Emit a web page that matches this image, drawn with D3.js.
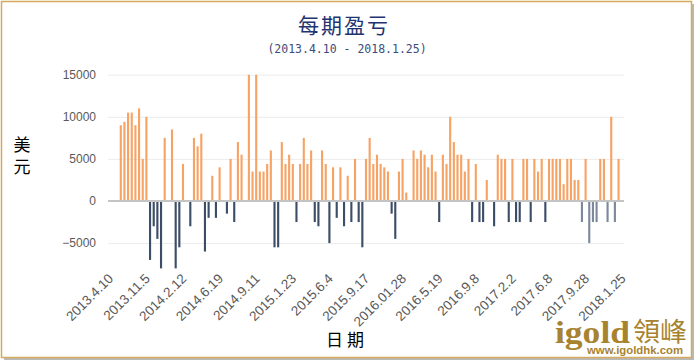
<!DOCTYPE html>
<html>
<head>
<meta charset="utf-8">
<script src="https://cdn.jsdelivr.net/npm/d3@7"></script>
<style>
  body { margin: 0; background: #fff; }
  svg { display: block; }
</style>
</head>
<body>
<div class="chart"></div>
<script>
// 每期盈亏 (2013.4.10 - 2018.1.25)
// 141 periods, only every 10th one gets a label
const tickLabels = ['2013.4.10', '2013.11.5', '2014.2.12', '2014.6.19', '2014.9.11',
  '2015.1.23', '2015.6.4', '2015.9.17', '2016.01.28', '2016.5.19', '2016.9.8',
  '2017.2.2', '2017.6.8', '2017.9.28', '2018.1.25'];

// profit / loss per period in US$ (null = no trade)
const pnl = [
  null, null, null,
  9000, 9400, 10500, 10500, 9000, 11000, 5000, 10000, -7000, -3000,
  -4500, -8000, 7500, null, 8500, -8000, -5500, 4400, null, -3000,
  7500, 6500, 8000, -6000, -2000, 3000, -2000, 4000, null, -1500,
  5000, -2500, 7000, 5500, null, 15000, 3500, 15000, 3500, 3500,
  4400, 6000, -5500, -5500, 7000, 4400, 5500, 4400, -2500, 4400,
  7500, 4400, 6000, -2500, -3000, 6000, 4400, -5000, 4000, -2000,
  4000, -3000, 3000, -2500, 5000, -2500, -5500, 5000, 7500, 4400,
  5500, 4400, 4000, 3500, -1500, -4500, 3500, 5000, 1000, null,
  6000, 5000, 6000, 5500, 4000, 5500, 3500, -2500, 5500, 4400,
  10000, 7000, 5500, 5500, 3500, 5000, -2500, 4400, -2500, -2500,
  2500, null, -3000, 5500, 5000, 5000, -2500, 5000, -2500, -2500,
  5000, 5000, -2500, 5000, 3500, 5000, -2500, 5000, 5000, 5000,
  5000, 2000, 5000, 5000, 2500, 2500, -2500, 5000, -5000, -2500,
  -2500, 5000, 5000, -2500, 10000, -2500, 5000,
  null
];

const yTicks = [-5000, 0, 5000, 10000, 15000];

const width = 695;
const height = 362;
const plot = { left: 108, right: 624, top: 74.7, zero: 201 };

const svg = d3.select('.chart').append('svg')
  .attr('width', width).attr('height', height);

// frame with a soft shadow
svg.append('rect').attr('x', 4).attr('y', 4).attr('width', 690).attr('height', 356)
  .attr('fill', '#b8b8b8');
svg.append('rect').attr('x', 1.5).attr('y', 1.5).attr('width', 690).attr('height', 356)
  .attr('fill', '#fff').attr('stroke', '#d3ab5c').attr('stroke-width', 1.5);

const data = pnl.map((v, i) => ({ i: i, v: v }));

const x = d3.scaleBand()
  .domain(data.map(d => d.i))
  .range([plot.left, plot.right])
  .paddingInner(0.42)
  .paddingOuter(0.2);

// 0 sits at y=201, 15000 at 74.7
const pxPer = (plot.zero - plot.top) / 15000;
const y = d3.scaleLinear()
  .domain([-8000, 15000])
  .range([plot.zero + 8000 * pxPer, plot.top]);

// grid lines + y labels
const yAxis = d3.axisLeft(y)
  .tickValues(yTicks)
  .tickSize(-(plot.right - plot.left))
  .tickPadding(12)
  .tickFormat(d3.format('d'));
const yg = svg.append('g')
  .attr('transform', `translate(${plot.left},0)`)
  .call(yAxis);
yg.select('.domain').remove();
yg.selectAll('line').attr('stroke', '#ececec').attr('stroke-width', 1);
yg.selectAll('text')
  .attr('fill', '#595959')
  .style('font-family', '"Liberation Sans", Arial, sans-serif')
  .style('font-size', '12px');

// bars (the last few losses are drawn lighter in the original)
svg.append('g').selectAll('rect')
  .data(data.filter(d => d.v !== null))
  .join('rect')
  .attr('x', d => x(d.i))
  .attr('width', x.bandwidth())
  .attr('y', d => y(Math.max(0, d.v)))
  .attr('height', d => Math.abs(y(d.v) - y(0)))
  .attr('fill', d => d.v >= 0 ? '#f6a366' : (d.i >= 129 ? '#7c889b' : '#3c4d68'));

// zero line
svg.append('line')
  .attr('x1', plot.left).attr('x2', plot.right)
  .attr('y1', y(0)).attr('y2', y(0))
  .attr('stroke', '#c4c4c4').attr('stroke-width', 2);

// x labels (every 10th period), rotated
const xAxis = d3.axisBottom(x)
  .tickValues(d3.range(0, pnl.length, 10))
  .tickFormat(i => tickLabels[i / 10])
  .tickSize(0);
const xg = svg.append('g')
  .attr('transform', 'translate(0,276)')
  .call(xAxis);
xg.select('.domain').remove();
xg.selectAll('text')
  .attr('fill', '#595959')
  .attr('text-anchor', 'end')
  .attr('y', 0)
  .attr('dy', '0.35em')
  .attr('transform', 'translate(1,0) rotate(-45)')
  .style('font-family', '"Liberation Sans", Arial, sans-serif')
  .style('font-size', '13.5px');

// titles
svg.append('text')
  .attr('x', 344).attr('y', 33)
  .attr('text-anchor', 'middle')
  .attr('fill', '#1f3470')
  .style('font-family', '"Noto Sans CJK SC", sans-serif')
  .style('font-size', '21px')
  .style('letter-spacing', '2px')
  .text('每期盈亏');
svg.append('text')
  .attr('x', 347).attr('y', 53)
  .attr('text-anchor', 'middle')
  .attr('fill', '#3e4c7c')
  .style('font-family', '"DejaVu Sans Mono", monospace')
  .style('font-size', '11.5px')
  .text('(2013.4.10 - 2018.1.25)');

// axis titles
svg.append('text')
  .attr('x', 22).attr('y', 136)
  .attr('fill', '#000')
  .style('writing-mode', 'vertical-rl')
  .style('font-family', '"Noto Sans CJK SC", sans-serif')
  .style('font-size', '17px')
  .style('letter-spacing', '5px')
  .text('美元');

svg.append('text')
  .attr('x', 347).attr('y', 346)
  .attr('text-anchor', 'middle')
  .attr('fill', '#000')
  .style('font-family', '"Noto Sans CJK SC", sans-serif')
  .style('font-size', '17px')
  .style('letter-spacing', '4px')
  .text('日期');

// watermark logo
const gold = '#a8832f';
svg.append('text')
  .attr('x', 555).attr('y', 343)
  .attr('fill', gold)
  .attr('textLength', 75).attr('lengthAdjust', 'spacingAndGlyphs')
  .style('font-family', '"Liberation Serif", "DejaVu Serif", serif')
  .style('font-weight', 'bold')
  .style('font-size', '31px')
  .text('igold');
svg.append('text')
  .attr('x', 633).attr('y', 341)
  .attr('fill', gold)
  .attr('textLength', 54).attr('lengthAdjust', 'spacingAndGlyphs')
  .style('font-family', '"Noto Sans CJK TC", sans-serif')
  .style('font-size', '26px')
  .text('領峰');
svg.append('text')
  .attr('x', 587).attr('y', 354)
  .attr('fill', gold)
  .attr('textLength', 96).attr('lengthAdjust', 'spacingAndGlyphs')
  .style('font-family', '"Liberation Sans", Arial, sans-serif')
  .style('font-weight', 'bold')
  .style('font-size', '10.5px')
  .text('www.igoldhk.com');
</script>
</body>
</html>
